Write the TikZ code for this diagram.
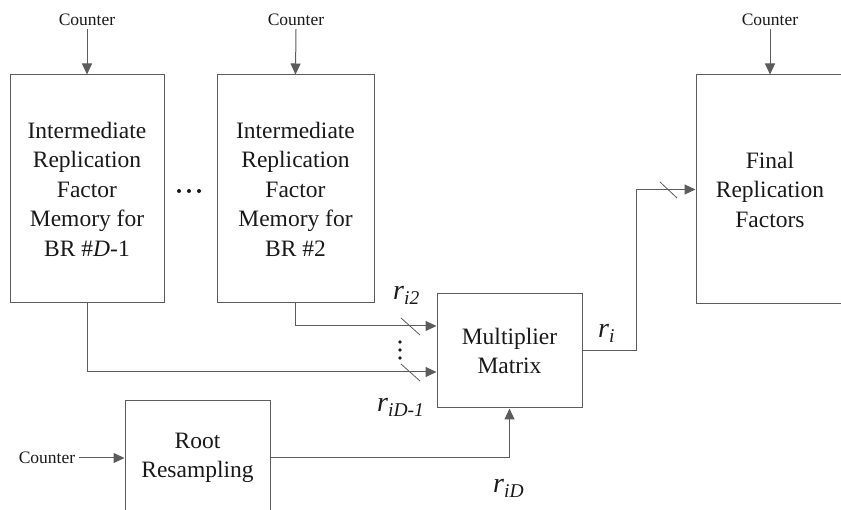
\documentclass[tikz,border=0pt]{standalone}
\usepackage{fontspec}
\setmainfont{Liberation Serif}
\usetikzlibrary{arrows.meta}
\definecolor{wire}{RGB}{92,92,92}
\definecolor{ink}{RGB}{25,25,25}
\newcommand{\boxfont}{\fontsize{23.5}{29.5}\selectfont}
\newcommand{\ctrfont}{\fontsize{17.5}{20}\selectfont}
\newcommand{\sigfont}{\fontsize{28}{30}\selectfont\itshape}
\newcommand{\subfont}{\fontsize{19.5}{20}\selectfont\itshape}
\newcommand{\sig}[2]{{\sigfont #1}\raisebox{-5pt}{\subfont #2}}
\begin{document}
\begin{tikzpicture}[x=1pt,y=-1pt,
  blk/.style={draw=wire,line width=1pt,align=center,text=ink,font=\boxfont,inner sep=0pt},
  ctr/.style={text=ink,font=\ctrfont,inner sep=1pt},
  lab/.style={text=ink,inner sep=0pt},
  wireline/.style={draw=wire,line width=1pt},
  arr/.style={wireline,-{Triangle[length=11pt,width=10pt]}},
  slash/.style={draw=wire,line width=0.8pt},
  dot/.style={fill=ink,draw=none}]
\useasboundingbox (0,0) rectangle (841,510);
\clip (0,0) rectangle (841,510);

% memory blocks
\node[blk,minimum width=154pt,minimum height=228pt] (b1) at (87,189)
  {Intermediate\\Replication\\Factor\\Memory for\\BR \#\textit{D}-1};
\node[blk,minimum width=157pt,minimum height=228pt] (b2) at (295.5,189)
  {Intermediate\\Replication\\Factor\\Memory for\\BR \#2};
\node[blk,minimum width=148pt,minimum height=229pt] (fb) at (770,189.5)
  {Final\\Replication\\Factors};
\node[blk,minimum width=145pt,minimum height=114pt] (mm) at (509.5,351)
  {Multiplier\\Matrix};
\node[blk,minimum width=145pt,minimum height=114pt] (rr) at (197.5,458)
  {Root\\Resampling};

% counters
\node[ctr] (c1) at (87,20) {Counter};
\node[ctr] (c2) at (296,20) {Counter};
\node[ctr] (c3) at (770,20) {Counter};
\node[ctr] (c4) at (47,458) {Counter};
\draw[arr] (c1.south) ++(0,2) -- (b1.north);
\draw[arr] (c2.south) ++(0,2) -- (b2.north);
\draw[arr] (c3.south) ++(0,2) -- (fb.north);
\draw[arr] (c4.east) ++(3,0) -- (rr.west);

% data paths
\draw[arr] (b2.south) |- ([yshift=25pt]mm.west);
\draw[arr] (b1.south) |- ([yshift=-21pt]mm.west);
\draw[arr] (rr.east) -| (mm.south);
\coordinate (bend) at (636,351);
\draw[arr] (mm.east) -- (bend) |- (fb.west);

% bus marks
\draw[slash] (401,318) -- (420,335);
\draw[slash] (401,364) -- (420,381);
\draw[slash] (660,182) -- (677,198);

% ellipses
\foreach \x in {179,189,199} \fill[dot] (\x,191) circle (2pt);
\foreach \y in {342,350,358} \fill[dot] (400,\y) circle (1.8pt);

% signal labels
\node[lab,anchor=base west] (ri2) at (393,300) {\sig{r}{i2}};
\node[lab,anchor=base west] (riD1) at (377,412) {\sig{r}{iD-1}};
\node[lab,anchor=base west] (riD) at (493,493) {\sig{r}{iD}};
\node[lab,anchor=base west] (ri) at (598,338) {\sig{r}{i}};
\end{tikzpicture}
\end{document}
